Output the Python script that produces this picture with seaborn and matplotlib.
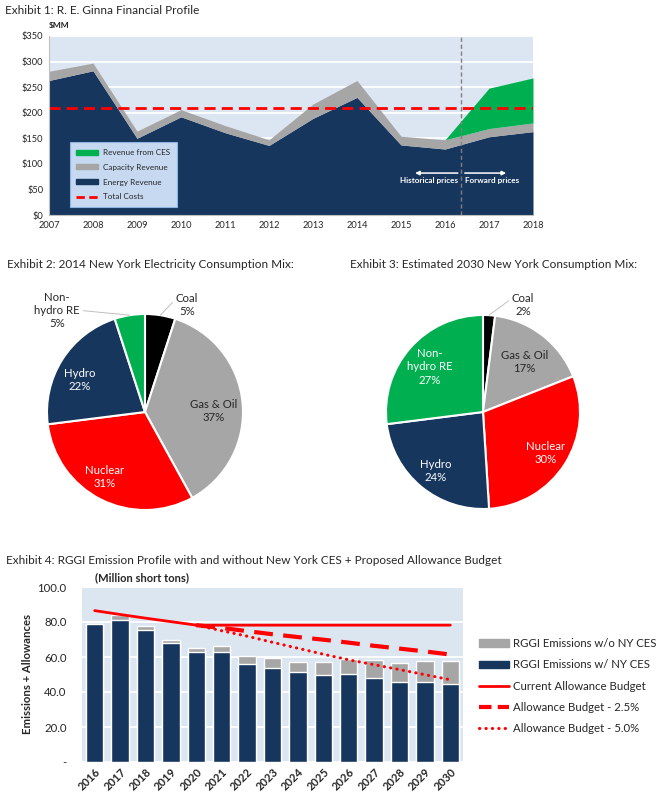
"""
Ginna financial profile + NY consumption mix + RGGI emission profile
"""

import numpy as np
import pandas as pd
import matplotlib
matplotlib.use("Agg")
import matplotlib.pyplot as plt
import seaborn as sns
from matplotlib.patches import Patch
from matplotlib.lines import Line2D

# ─── Data ─────────────────────────────────────────────────────────────────────
years_1 = [2007, 2008, 2009, 2010, 2011, 2012, 2013, 2014, 2015, 2016, 2017, 2018]
energy_rev = [263, 282, 150, 192, 161, 136, 189, 230, 137, 129, 153, 163]
capacity_rev = [18, 15, 14, 14, 14, 11, 28, 33, 17, 18, 16, 17]
ces_rev = [0, 0, 0, 0, 0, 0, 0, 0, 0, 0, 79, 88]
total_costs = 210
forward_start = 2016.37

mix_labels = ["Coal", "Gas & Oil", "Nuclear", "Hydro", "Non-\nhydro RE"]
mix_2014 = [5, 37, 31, 22, 5]
mix_2030 = [2, 17, 30, 24, 27]

years_4 = list(range(2016, 2031))
emis_without = [79.0, 84.0, 77.8, 69.6, 65.3, 66.4, 60.5, 59.4, 56.9, 56.9, 58.6, 58.1, 56.4, 57.5, 57.9]
emis_with = [79.0, 81.0, 75.3, 68.1, 63.0, 62.8, 56.0, 54.0, 51.2, 49.9, 50.3, 47.8, 45.9, 45.9, 44.6]
budget_current = [86.5, 84.3, 82.2, 80.2, 78.2, 78.2, 78.2, 78.2, 78.2, 78.2, 78.2, 78.2, 78.2, 78.2, 78.2]
years_cut = list(range(2020, 2031))
budget_25 = [78.2, 76.6, 74.8, 73.0, 71.4, 69.9, 68.2, 66.4, 64.8, 63.2, 61.4]
budget_50 = [78.2, 75.0, 71.9, 68.4, 65.0, 61.6, 58.4, 55.6, 52.8, 49.9, 47.0]

# ─── Style ────────────────────────────────────────────────────────────────────
NAVY = '#17365D'
GRAY = '#A6A6A6'
GREEN = '#00B050'
RED = '#FF0000'
TXT = '#262626'
DOTS = (0, (0.1, 2.0))

sns.set_theme(style="white")
plt.rcParams['font.family'] = ['Lato', 'DejaVu Sans']
plt.rcParams['text.color'] = TXT

W, H = 660, 811
fig = plt.figure(figsize=(W / 100, H / 100), dpi=100)


def box(x0, y0, x1, y1):
    # pixel box (top-left origin) -> figure fraction rect
    return [x0 / W, 1 - y1 / H, (x1 - x0) / W, (y1 - y0) / H]


def title(x, y, s, **kw):
    fig.text(x / W, 1 - y / H, s, va='center', ha='left', fontsize=8.5, color=TXT, **kw)


# ══════════════════════════════════════════════════════════════════════════════
# Exhibit 1 – stacked area
# ══════════════════════════════════════════════════════════════════════════════
ax1 = fig.add_axes(box(49, 36, 533, 215))
ax1.set_facecolor('#DCE6F2')
ax1.set_axisbelow(True)
ax1.stackplot(years_1, energy_rev, capacity_rev, ces_rev,
              colors=[NAVY, GRAY, GREEN], linewidth=0)
ax1.axhline(total_costs, color=RED, ls=(0, (4, 2.2)), lw=2)
ax1.axvline(forward_start, color='#7F7F7F', ls=(0, (3, 2)), lw=1)

ax1.set_xlim(2007, 2018)
ax1.set_ylim(0, 350)
ax1.set_xticks(years_1)
ax1.set_yticks(range(0, 351, 50))
ax1.set_yticklabels([f"${v}" for v in range(0, 351, 50)])
ax1.grid(axis='y', color='white', lw=1.3)
ax1.tick_params(labelsize=6.7, colors=TXT, length=0, pad=4)
for s in ['top', 'right']:
    ax1.spines[s].set_visible(False)
for s in ['left', 'bottom']:
    ax1.spines[s].set_color('#BFBFBF')
    ax1.spines[s].set_linewidth(0.8)
fig.text(49 / W, 1 - 26 / H, "$MM", fontsize=6, fontweight='bold', va='center', ha='left')

# price regime arrows
arr = dict(arrowstyle='-|>', color='white', lw=1.1, mutation_scale=6, shrinkA=0, shrinkB=0)
ax1.annotate('', xy=(forward_start - 1.05, 82), xytext=(forward_start - 0.08, 82), arrowprops=arr)
ax1.annotate('', xy=(forward_start + 1.02, 82), xytext=(forward_start + 0.08, 82), arrowprops=arr)
ax1.text(forward_start - 0.08, 68, "Historical prices", color='white', fontsize=5.9,
         fontweight='bold', ha='right', va='center')
ax1.text(forward_start + 0.08, 68, "Forward prices", color='white', fontsize=5.9,
         fontweight='bold', ha='left', va='center')

h1 = [Patch(color=GREEN), Patch(color=GRAY), Patch(color=NAVY),
      Line2D([], [], color=RED, ls=(0, (3, 1.6)), lw=2)]
leg1 = ax1.legend(h1, ["Revenue from CES", "Capacity Revenue", "Energy Revenue", "Total Costs"],
                  loc='lower left', bbox_to_anchor=(0.043, 0.045), fontsize=5.9,
                  frameon=True, fancybox=False, handlelength=2.7, handleheight=0.55,
                  labelspacing=0.95, borderpad=0.8, handletextpad=0.6, borderaxespad=0)
leg1.get_frame().set_facecolor('#C6D9F1')
leg1.get_frame().set_edgecolor('#8DB4E2')
leg1.get_frame().set_linewidth(0.8)
leg1.get_frame().set_alpha(1)
title(5, 11, "Exhibit 1: R. E. Ginna Financial Profile")

# ══════════════════════════════════════════════════════════════════════════════
# Exhibits 2 & 3 – pies
# ══════════════════════════════════════════════════════════════════════════════
PIE_COLS = ['black', GRAY, RED, NAVY, GREEN]


def draw_pie(ax, values, spots, txt_cols):
    wedges, _ = ax.pie(values, colors=PIE_COLS, startangle=90, counterclock=False,
                       wedgeprops=dict(edgecolor='white', linewidth=1.5))
    ax.set_xlim(-1, 1)
    ax.set_ylim(-1, 1)
    ax.set_aspect('equal')
    for w, lab, v, col in zip(wedges, mix_labels, values, txt_cols):
        mid = np.deg2rad((w.theta1 + w.theta2) / 2)
        r, dth, lead = spots[lab]
        a = mid + np.deg2rad(dth)
        pos = (r * np.cos(a), r * np.sin(a))
        s = f"{lab}\n{v}%"
        if lead is None:
            ax.text(*pos, s, ha='center', va='center', fontsize=8.2, color=col,
                    linespacing=1.25)
        else:
            ax.annotate(s, xy=(np.cos(mid), np.sin(mid)), xytext=pos,
                        ha='center', va='center', fontsize=8.2, color=col, linespacing=1.25,
                        annotation_clip=False,
                        arrowprops=dict(arrowstyle='-', color='#BFBFBF', lw=0.7,
                                        shrinkA=0, shrinkB=0, relpos=lead))


ax2 = fig.add_axes(box(47, 314, 243, 510))
draw_pie(ax2, mix_2014, {
    "Coal": (1.17, -12.4, (0.05, 0.8)),
    "Gas & Oil": (0.70, -4.6, None),
    "Nuclear": (0.78, -4.6, None),
    "Hydro": (0.74, 6.2, None),
    "Non-\nhydro RE": (1.37, 31.8, (1.0, 0.5)),
}, [TXT, TXT, 'white', 'white', TXT])
title(7, 265, "Exhibit 2: 2014 New York Electricity Consumption Mix:")

ax3 = fig.add_axes(box(386, 315, 580, 509))
draw_pie(ax3, mix_2030, {
    "Coal": (1.18, -16.9, (0.05, 0.8)),
    "Gas & Oil": (0.67, -2.2, None),
    "Nuclear": (0.77, -1.1, None),
    "Hydro": (0.78, 1.1, None),
    "Non-\nhydro RE": (0.72, 1.1, None),
}, [TXT, TXT, 'white', 'white', 'white'])
title(350, 265, "Exhibit 3: Estimated 2030 New York Consumption Mix:")

# ══════════════════════════════════════════════════════════════════════════════
# Exhibit 4 – RGGI bars + budget lines
# ══════════════════════════════════════════════════════════════════════════════
df4 = pd.DataFrame({'year': years_4, 'without': emis_without, 'with': emis_with,
                    'current': budget_current})
df_cut = pd.DataFrame({'year': years_cut, 'b25': budget_25, 'b50': budget_50})
df_cut['pos'] = [years_4.index(y) for y in years_cut]

ax4 = fig.add_axes(box(82, 587, 463, 762))
ax4.set_facecolor('#DCE6F1')
ax4.set_axisbelow(True)
sns.barplot(data=df4, x='year', y='without', color=GRAY, saturation=1, width=0.68, ax=ax4)
sns.barplot(data=df4, x='year', y='with', color=NAVY, saturation=1, width=0.68, ax=ax4)
sns.lineplot(x=np.arange(len(years_4)), y=df4['current'], color=RED, lw=2, ax=ax4)
sns.lineplot(x=df_cut['pos'], y=df_cut['b25'], color=RED, lw=3, ax=ax4)
ax4.lines[-1].set_linestyle((0, (4.5, 2.5)))
sns.lineplot(x=df_cut['pos'], y=df_cut['b50'], color=RED, lw=2.2, ax=ax4)
ax4.lines[-1].set_linestyle(DOTS)
ax4.lines[-1].set_dash_capstyle('round')

ax4.set_xlim(-0.5, len(years_4) - 0.5)
ax4.set_ylim(0, 100)
ax4.set_yticks(range(0, 101, 20))
ax4.set_yticklabels(['-'] + [f"{v:.1f}" for v in range(20, 101, 20)])
ax4.grid(axis='y', color='white', lw=1.3)
ax4.set_xlabel('')
ax4.set_ylabel('Emissions + Allowances', fontsize=8.2, fontweight='bold', labelpad=3)
ax4.tick_params(axis='y', labelsize=8.2, colors=TXT, length=0, pad=11)
ax4.tick_params(axis='x', labelsize=8, colors=TXT, length=0, pad=3)
for t in ax4.get_xticklabels():
    t.set_rotation(45)
    t.set_ha('right')
    t.set_rotation_mode('anchor')
    t.set_fontweight('bold')
for s in ax4.spines.values():
    s.set_visible(False)

h4 = [Patch(color=GRAY), Patch(color=NAVY),
      Line2D([], [], color=RED, lw=2),
      Line2D([], [], color=RED, lw=3, ls=(0, (3, 1.5))),
      Line2D([], [], color=RED, lw=2.2, ls=DOTS, dash_capstyle='round')]
fig.legend(h4, ["RGGI Emissions w/o NY CES", "RGGI Emissions w/ NY CES",
                "Current Allowance Budget", "Allowance Budget - 2.5%",
                "Allowance Budget - 5.0%"],
           loc='upper left', bbox_to_anchor=(479 / W, 1 - 638 / H), fontsize=8.2,
           frameon=False, handlelength=2.6, handleheight=0.6, labelspacing=0.9,
           handletextpad=0.35, borderaxespad=0, borderpad=0)

title(6, 560, "Exhibit 4: RGGI Emission Profile with and without New York CES + Proposed Allowance Budget")
fig.text(95 / W, 1 - 578 / H, "(Million short tons)", fontsize=8, fontweight='bold',
         va='center', ha='left')

plt.savefig("out.png", dpi=100)
plt.close()
